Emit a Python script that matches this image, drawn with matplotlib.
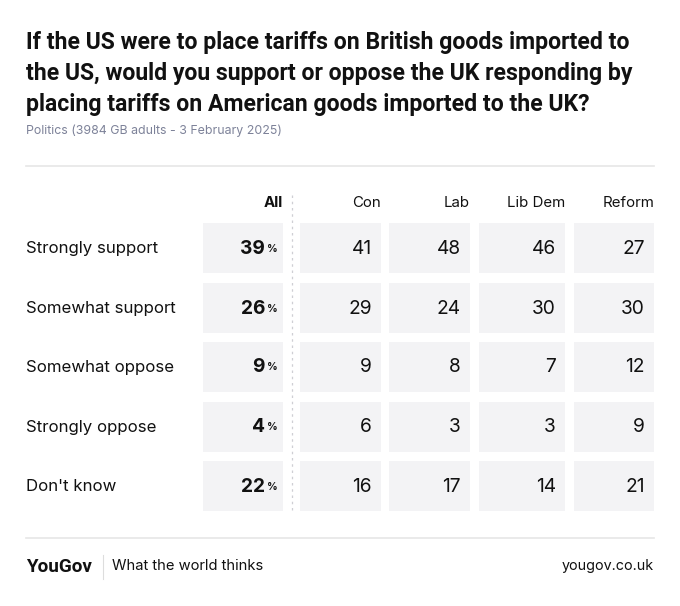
import matplotlib
matplotlib.use("Agg")
import matplotlib.pyplot as plt
from matplotlib.patches import Rectangle

title_lines = ["If the US were to place tariffs on British goods imported to",
               "the US, would you support or oppose the UK responding by",
               "placing tariffs on American goods imported to the UK?"]
subtitle = "Politics (3984 GB adults - 3 February 2025)"
columns = ["All", "Con", "Lab", "Lib Dem", "Reform"]
rows = ["Strongly support", "Somewhat support", "Somewhat oppose", "Strongly oppose", "Don't know"]
all_vals = [39, 26, 9, 4, 22]
con_vals = [41, 29, 9, 6, 16]
lab_vals = [48, 24, 8, 3, 17]
libdem_vals = [46, 30, 7, 3, 14]
reform_vals = [27, 30, 12, 9, 21]

W, H = 680, 606
fig = plt.figure(figsize=(W/100, H/100), dpi=100)
ax = fig.add_axes([0, 0, 1, 1])
ax.set_xlim(0, W)
ax.set_ylim(H, 0)
ax.axis("off")

FONT = "Inter"
plt.rcParams['font.family'] = [FONT, 'DejaVu Sans']

# Title
for i, line in enumerate(title_lines):
    ax.text(26, 42 + i * 31.5, line, fontsize=16.6, fontweight="bold", color="#111111",
            va="center", ha="left", family=["Roboto", "DejaVu Sans"])
ax.text(26, 131, subtitle, fontsize=8.9, color="#7d8299", va="center", ha="left")
ax.plot([26, 654], [166, 166], color="#e6e6e6", lw=1.2)

# table geometry
x0 = [203, 300, 389, 479, 574]
x1 = [283, 381, 470, 565, 654]
ytop = [223, 283, 342, 402, 461]
ch = 50
header_y = 203

data = [all_vals, con_vals, lab_vals, libdem_vals, reform_vals]

for j, c in enumerate(columns):
    ax.text(x1[j], header_y, c, fontsize=10.8, fontweight="bold" if j == 0 else "normal",
            color="#111111", ha="right", va="center")

for i, r in enumerate(rows):
    yc = ytop[i] + ch / 2
    ax.text(26, yc + 0.5, r, fontsize=12.1, color="#111111", ha="left", va="center")
    for j in range(len(columns)):
        ax.add_patch(Rectangle((x0[j], ytop[i]), x1[j] - x0[j], ch,
                               facecolor="#f3f3f5", edgecolor="none"))
        v = data[j][i]
        if j == 0:
            ax.text(x1[j] - 18, yc + 0.5, str(v), fontsize=13.8, fontweight="bold",
                    color="#111111", ha="right", va="center")
            ax.text(x1[j] - 5, yc + 0.5, "%", fontsize=7.5, fontweight="bold",
                    color="#111111", ha="right", va="center")
        else:
            ax.text(x1[j] - 9, yc + 0.5, str(v), fontsize=13.8,
                    color="#111111", ha="right", va="center")

ax.plot([292, 292], [195, 512], color="#cfcfd4", lw=0.9, ls=(0, (2, 3)))

# footer
ax.plot([26, 654], [538, 538], color="#e6e6e6", lw=1.2)
ax.text(26, 567, "YouGov", fontsize=13.6, fontweight="bold", color="#111111",
        ha="left", va="center", family=["Roboto", "DejaVu Sans"])
ax.plot([103, 103], [555, 579], color="#dddddd", lw=0.8)
ax.text(112, 566, "What the world thinks", fontsize=10.6, color="#111111",
        ha="left", va="center")
ax.text(654, 566, "yougov.co.uk", fontsize=10.3, color="#111111",
        ha="right", va="center")

fig.savefig("out.png", dpi=100, facecolor="white")
